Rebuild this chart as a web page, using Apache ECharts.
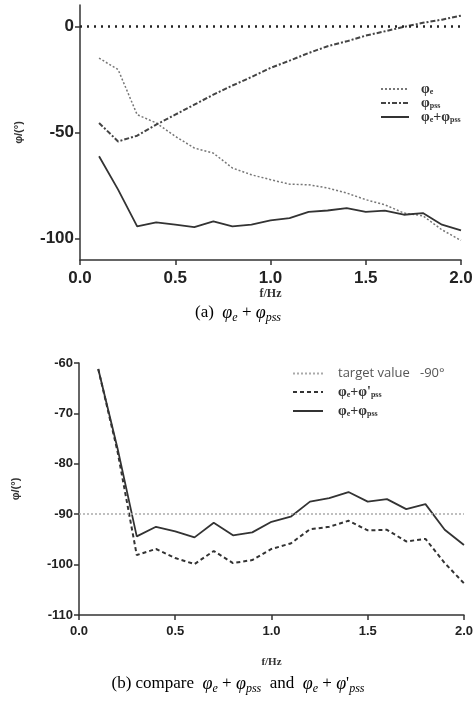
<!DOCTYPE html>
<html>
<head>
<meta charset="utf-8">
<script src="https://cdn.jsdelivr.net/npm/echarts@6/dist/echarts.min.js"></script>
<style>
  html, body { margin: 0; padding: 0; background: #fff; }
  #chart { width: 476px; height: 706px; }
</style>
</head>
<body>
<div id="chart"></div>
<script>
// frequency points (Hz)
const freqs = [0.1, 0.2, 0.3, 0.4, 0.5, 0.6, 0.7, 0.8, 0.9, 1.0,
  1.1, 1.2, 1.3, 1.4, 1.5, 1.6, 1.7, 1.8, 1.9, 2.0]

// (a) phases
const phiE = [-15, -20.4, -41.6, -45.5, -51.8, -57.3, -59.7, -66.7, -69.9, -72.2,
  -74.3, -74.6, -76.1, -78.5, -81.6, -84, -87.9, -89.2, -95.8, -100.8]
const phiPss = [-45.5, -54.2, -51.5, -46.3, -41.6, -36.9, -32.2, -27.9, -23.9, -19.6,
  -16.2, -12.6, -9.4, -7.1, -4.4, -2.4, -0.3, 1.6, 3.1, 5]
const phiSum = [-61.2, -76.9, -94.2, -92.3, -93.4, -94.5, -91.8, -94.2, -93.4, -91.4,
  -90.3, -87.4, -86.7, -85.6, -87.4, -86.8, -88.7, -87.9, -93.4, -96.1]

// (b) compare
const phiSumPrime = [-61.2, -77.5, -98.1, -96.9, -98.7, -99.9, -97.3, -99.7, -99.1, -96.9,
  -95.8, -93, -92.5, -91.3, -93.2, -93.1, -95.4, -94.9, -99.7, -103.7]
const phiSumB = [-61.2, -76.9, -94.4, -92.5, -93.4, -94.6, -91.7, -94.2, -93.6, -91.5,
  -90.5, -87.5, -86.8, -85.6, -87.5, -87, -89, -88, -93.1, -96.1]
const targetValue = -90

const xTicks = [0, 0.5, 1.0, 1.5, 2.0]
const yTicksA = [-100, -50, 0]
const yTicksB = [-110, -100, -90, -80, -70, -60]

const pair = (xs, ys) => xs.map((x, i) => [x, ys[i]])

const legendNames = {
  e: '{g|φ}{s|e}',
  pss: '{g|φ}{s|pss}',
  sumA: '{g|φ}{s|e}{g|+φ}{s|pss}',
  target: '{t|target value   -90°}',
  prime: "{g|φ}{s|e}{g|+φ'}{s|pss}",
  sumB: '{g|φ}{s|e}{g|+φ}{s|pss}'
}

const legendRich = {
  g: { fontFamily: 'Liberation Serif', fontSize: 14, fontWeight: 'bold', color: '#333' },
  s: { fontFamily: 'Liberation Serif', fontSize: 8, fontWeight: 'bold', color: '#333', padding: [6, 0, 0, 0] },
  t: { fontFamily: 'Open Sans', fontSize: 13, color: '#555' }
}

const axisLine = { show: true, onZero: false, lineStyle: { color: '#333', width: 1.5 } }
const axisTick = { show: true, length: 5, lineStyle: { color: '#333', width: 1.5 } }

const chart = echarts.init(document.getElementById('chart'))

chart.setOption({
  animation: false,
  backgroundColor: '#fff',
  grid: [
    { left: 80, right: 15, top: 5, height: 255 },
    { left: 79, right: 8, top: 363, height: 252 }
  ],
  legend: [
    {
      data: ['e', 'pss', 'sumA'],
      orient: 'vertical',
      left: 375, top: 77,
      itemWidth: 28, itemHeight: 10, itemGap: 0,
      itemStyle: { opacity: 0 },
      formatter: n => legendNames[n],
      textStyle: { rich: legendRich, padding: [0, 0, 0, 7] }
    },
    {
      data: ['target', 'prime', 'sumB'],
      orient: 'vertical',
      left: 287, top: 362,
      itemWidth: 30, itemHeight: 10, itemGap: 5,
      itemStyle: { opacity: 0 },
      formatter: n => legendNames[n],
      textStyle: { rich: legendRich, padding: [0, 0, 0, 10] }
    }
  ],
  xAxis: [0, 1].map(i => ({
    type: 'value', gridIndex: i, min: 0, max: 2, interval: 0.5,
    name: 'f/Hz', nameLocation: 'middle', nameGap: i === 0 ? 28 : 42,
    nameTextStyle: { fontFamily: 'Liberation Serif', fontWeight: 'bold', fontSize: i === 0 ? 12 : 11, color: '#333' },
    axisLine, axisTick, splitLine: { show: false },
    axisLabel: {
      margin: 10,
      fontFamily: 'Liberation Sans', fontWeight: 'bold',
      fontSize: i === 0 ? 17 : 13, color: '#222',
      formatter: v => v.toFixed(1),
      customValues: xTicks
    }
  })),
  yAxis: [
    {
      type: 'value', gridIndex: 0, min: -110, max: 10,
      name: 'φ/(°)', nameLocation: 'middle', nameGap: 56,
      nameTextStyle: { fontFamily: 'Liberation Sans', fontWeight: 'bold', fontSize: 11, color: '#333' },
      axisLine, axisTick: Object.assign({}, axisTick, { customValues: yTicksA }),
      splitLine: { show: false },
      axisLabel: {
        margin: 6, fontFamily: 'Liberation Sans', fontWeight: 'bold', fontSize: 17, color: '#222',
        customValues: yTicksA
      }
    },
    {
      type: 'value', gridIndex: 1, min: -110, max: -60, interval: 10,
      name: 'φ/(°)', nameLocation: 'middle', nameGap: 58,
      nameTextStyle: { fontFamily: 'Liberation Sans', fontWeight: 'bold', fontSize: 11, color: '#333' },
      axisLine, axisTick: Object.assign({}, axisTick, { customValues: yTicksB }),
      splitLine: { show: false },
      axisLabel: {
        margin: 6, fontFamily: 'Liberation Sans', fontWeight: 'bold', fontSize: 13, color: '#222',
        customValues: yTicksB
      }
    }
  ],
  series: [
    {
      name: 'zero', type: 'line', xAxisIndex: 0, yAxisIndex: 0, data: [],
      markLine: {
        silent: true, symbol: 'none', label: { show: false },
        lineStyle: { color: '#222', type: [2, 5], width: 2.5 },
        data: [{ yAxis: 0 }]
      }
    },
    {
      name: 'e', type: 'line', xAxisIndex: 0, yAxisIndex: 0, symbol: 'none',
      data: pair(freqs, phiE),
      lineStyle: { color: '#777', width: 1.5, type: [2, 2] }, itemStyle: { color: '#777' }
    },
    {
      name: 'pss', type: 'line', xAxisIndex: 0, yAxisIndex: 0, symbol: 'none',
      data: pair(freqs, phiPss),
      lineStyle: { color: '#444', width: 2, type: [5, 2, 2, 2] }, itemStyle: { color: '#444' }
    },
    {
      name: 'sumA', type: 'line', xAxisIndex: 0, yAxisIndex: 0, symbol: 'none',
      data: pair(freqs, phiSum),
      lineStyle: { color: '#333', width: 1.8 }, itemStyle: { color: '#333' }
    },
    {
      name: 'target', type: 'line', xAxisIndex: 1, yAxisIndex: 1, symbol: 'none', data: [],
      lineStyle: { color: '#aaa', width: 1.5, type: [2, 2] }, itemStyle: { color: '#aaa' },
      markLine: {
        silent: true, symbol: 'none', label: { show: false },
        lineStyle: { color: '#aaa', type: [2, 2], width: 1.5 },
        data: [{ yAxis: targetValue }]
      }
    },
    {
      name: 'prime', type: 'line', xAxisIndex: 1, yAxisIndex: 1, symbol: 'none',
      data: pair(freqs, phiSumPrime),
      lineStyle: { color: '#333', width: 2, type: [4, 3] }, itemStyle: { color: '#333' }
    },
    {
      name: 'sumB', type: 'line', xAxisIndex: 1, yAxisIndex: 1, symbol: 'none',
      data: pair(freqs, phiSumB),
      lineStyle: { color: '#333', width: 1.8 }, itemStyle: { color: '#333' }
    }
  ],
  graphic: [
    {
      type: 'text', left: 'center', top: 304,
      style: {
        text: '{n|(a)  }{i|φ}{s|e}{n| + }{i|φ}{s|pss}',
        rich: {
          n: { fontFamily: 'Liberation Serif', fontSize: 17, color: '#111' },
          i: { fontFamily: 'Liberation Serif', fontStyle: 'italic', fontSize: 18, color: '#111' },
          s: { fontFamily: 'Liberation Serif', fontStyle: 'italic', fontSize: 12, color: '#111', padding: [9, 0, 0, 0] }
        }
      }
    },
    {
      type: 'text', left: 'center', top: 675,
      style: {
        text: "{n|(b) compare  }{i|φ}{s|e}{n| + }{i|φ}{s|pss}{n|  and  }{i|φ}{s|e}{n| + }{i|φ}{n|'}{s|pss}",
        rich: {
          n: { fontFamily: 'Liberation Serif', fontSize: 17, color: '#111' },
          i: { fontFamily: 'Liberation Serif', fontStyle: 'italic', fontSize: 18, color: '#111' },
          s: { fontFamily: 'Liberation Serif', fontStyle: 'italic', fontSize: 12, color: '#111', padding: [9, 0, 0, 0] }
        }
      }
    }
  ]
})
</script>
</body>
</html>
